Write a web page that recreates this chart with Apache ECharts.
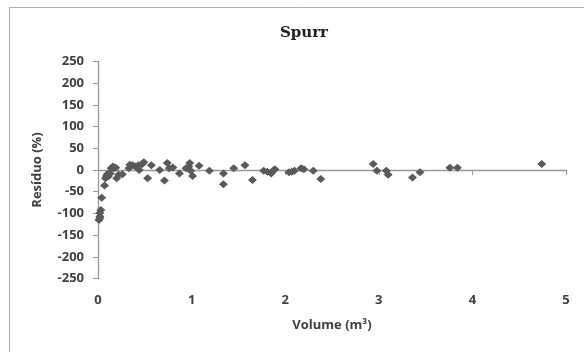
<!DOCTYPE html>
<html>
<head>
<meta charset="utf-8">
<script src="https://cdn.jsdelivr.net/npm/echarts@6/dist/echarts.min.js"></script>
<style>
html, body { margin: 0; padding: 0; background: #fff; }
#chart { width: 584px; height: 352px; }
</style>
</head>
<body>
<div id="chart"></div>
<script>
// volume (m3) and residual (%)
var volume = [0.01, 0.02, 0.02, 0.03, 0.02, 0.04, 0.07, 0.08, 0.09, 0.10, 0.11, 0.13, 0.14, 0.16, 0.17, 0.19, 0.20, 0.22, 0.26,
  0.33, 0.34, 0.37, 0.40, 0.43, 0.44, 0.47, 0.49, 0.53, 0.57, 0.66, 0.71, 0.74, 0.76, 0.80, 0.87, 0.94, 0.98, 0.97, 0.99, 1.01,
  1.08, 1.19, 1.34, 1.34, 1.45, 1.57, 1.65, 1.77, 1.81, 1.85, 1.87, 1.89, 2.04, 2.07, 2.10, 2.17, 2.20, 2.30, 2.38,
  2.94, 2.98, 3.08, 3.10, 3.36, 3.44, 3.76, 3.84, 4.74];
var residuo = [-115, -107, -99, -92, -111, -64, -36, -19, -14, -9, -15, -8, 4, 8, 4, 5, -19, -11, -10,
  4, 12, 11, 8, 11, 0, 13, 18, -19, 11, 0, -24, 16, 4, 6, -8, 4, 16, 8, -2, -14,
  10, -2, -8, -33, 4, 11, -23, -2, -4, -8, -2, 2, -5, -4, -2, 4, 2, -2, -21,
  14, -2, -2, -11, -17, -5, 5, 5, 14];
var yTicks = [-250, -200, -150, -100, -50, 0, 50, 100, 150, 200, 250];
var xTicks = [0, 1, 2, 3, 4, 5];

var points = volume.map(function (v, i) { return [v, residuo[i]]; });

var labelFont = { color: '#404040', fontWeight: 'bold', fontSize: 13, fontFamily: 'Open Sans' };

var chart = echarts.init(document.getElementById('chart'));
var option = {
  animation: false,
  backgroundColor: '#fff',
  graphic: [{
    type: 'rect',
    shape: { x: 9.5, y: 7.5, width: 640, height: 400 },
    style: { fill: 'none', stroke: '#b0b0b0', lineWidth: 1 }
  }],
  title: {
    text: 'Spurr',
    left: 299,
    top: 21,
    textAlign: 'center',
    textStyle: { fontFamily: 'DejaVu Serif', fontWeight: 'bold', fontSize: 15, color: '#202020' }
  },
  grid: { left: 98, right: 18, top: 61.5, bottom: 73.5 },
  xAxis: [{
    type: 'value',
    min: xTicks[0],
    max: xTicks[xTicks.length - 1],
    interval: 1,
    axisLine: { onZero: true, lineStyle: { color: '#999', width: 1.3 } },
    axisTick: { show: true, length: 5, lineStyle: { color: '#999' } },
    axisLabel: { show: false },
    splitLine: { show: false }
  }, {
    type: 'value',
    position: 'bottom',
    min: xTicks[0],
    max: xTicks[xTicks.length - 1],
    interval: 1,
    axisLine: { show: false, onZero: false },
    axisTick: { show: false },
    axisLabel: Object.assign({ margin: 15 }, labelFont),
    splitLine: { show: false },
    name: 'Volume (m³)',
    nameLocation: 'middle',
    nameGap: 40,
    nameTextStyle: labelFont
  }],
  yAxis: {
    type: 'value',
    min: yTicks[0],
    max: yTicks[yTicks.length - 1],
    interval: 50,
    axisLine: { show: true, lineStyle: { color: '#999', width: 1.3 } },
    axisTick: { show: true, length: 5, lineStyle: { color: '#999' } },
    axisLabel: Object.assign({ margin: 14 }, labelFont),
    splitLine: { show: false },
    name: 'Resíduo (%)',
    nameLocation: 'middle',
    nameGap: 54,
    nameTextStyle: labelFont
  },
  series: [{
    type: 'scatter',
    xAxisIndex: 0,
    symbol: 'diamond',
    symbolSize: [9, 8],
    itemStyle: { color: '#5a5a5a', opacity: 1 },
    data: points
  }]
};
chart.setOption(option);
</script>
</body>
</html>
